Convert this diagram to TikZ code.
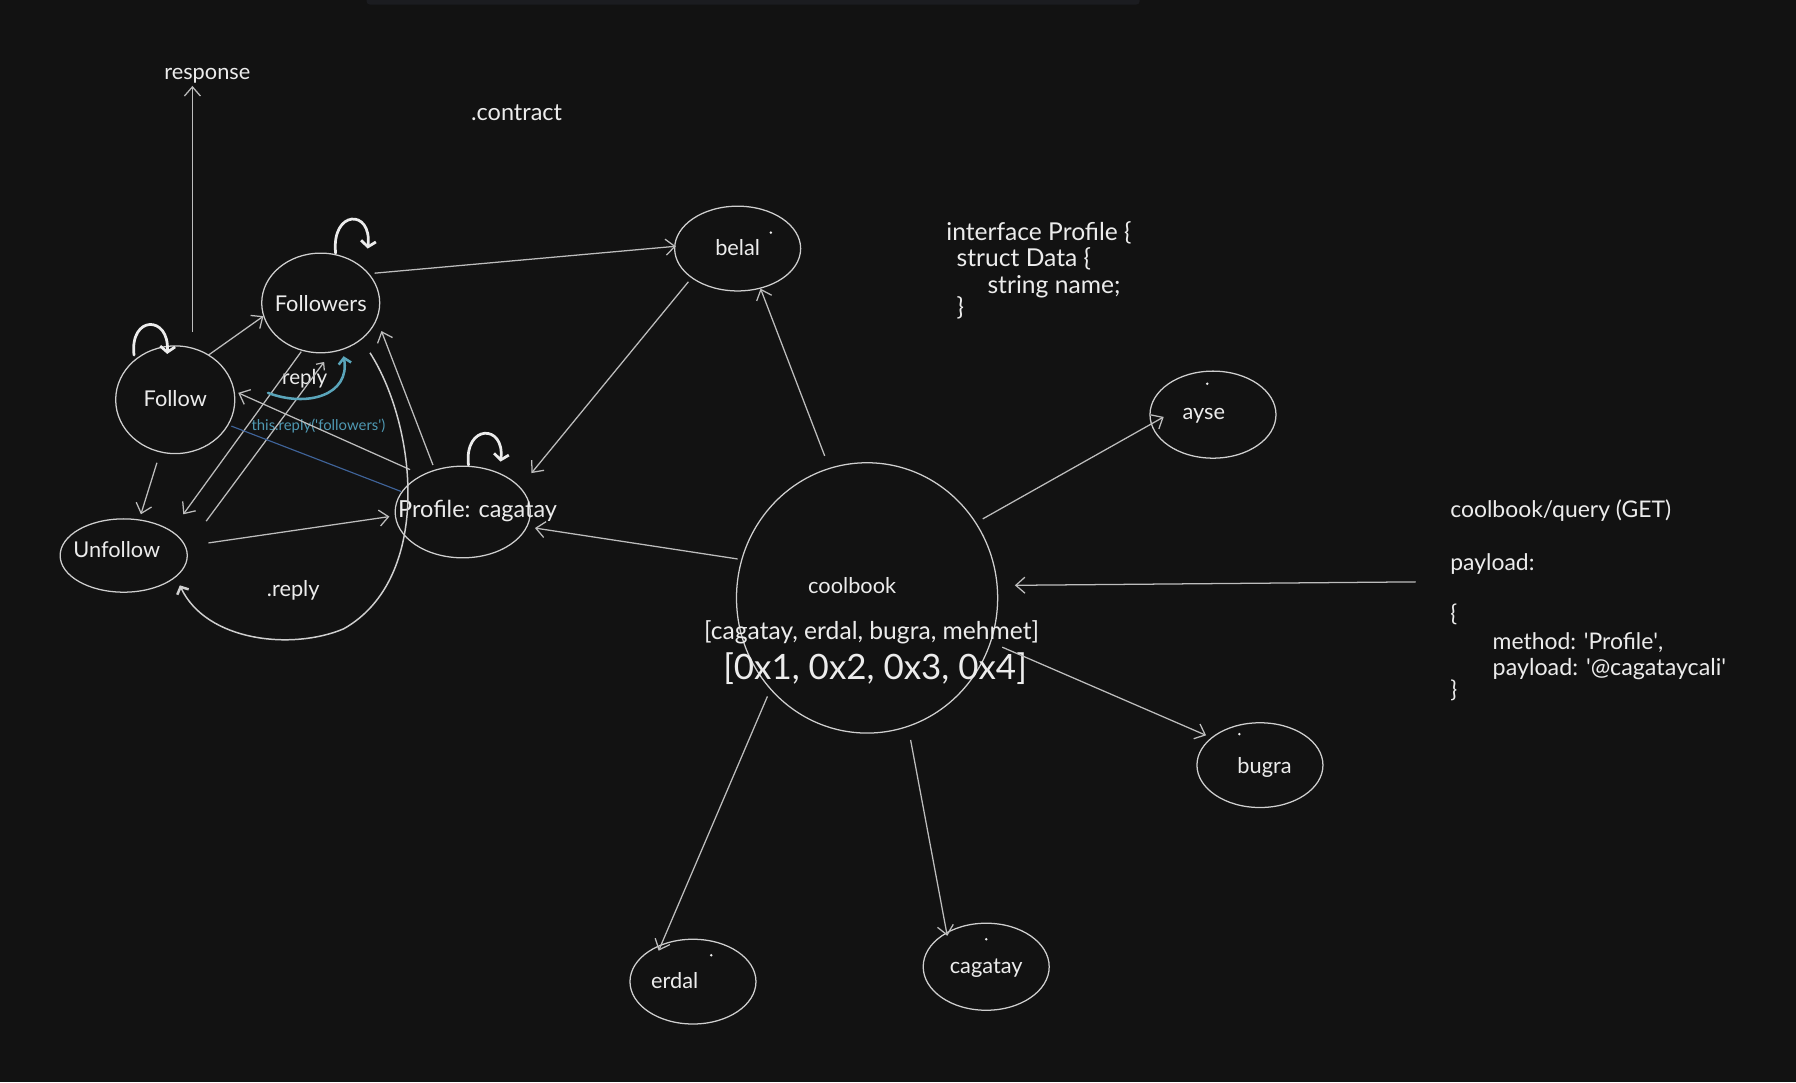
\documentclass[tikz,border=0pt]{standalone}
\usepackage{fontspec}
\setmainfont{Lato}
\usetikzlibrary{arrows.meta,shapes.geometric,calc}
\definecolor{bgc}{HTML}{121212}
\definecolor{barc}{HTML}{1B1C20}
\definecolor{linec}{HTML}{BDBDBD}
\definecolor{ellc}{HTML}{CFCFCF}
\definecolor{txtc}{HTML}{ECECEC}
\definecolor{tealc}{HTML}{5AA5BA}
\definecolor{tealt}{HTML}{4F98B2}
\definecolor{bluel}{HTML}{3F6399}
\begin{document}
\begin{tikzpicture}[x=1pt,y=-1pt,
  ell/.style={draw=ellc, ellipse, inner sep=0pt, line width=1.1pt},
  txt/.style={text=txtc, font=\fontsize{19}{23}\selectfont, inner sep=0pt},
  code/.style={text=txtc, inner sep=0pt, anchor=west, font=\fontsize{20}{24}\selectfont},
  codeb/.style={text=txtc, inner sep=0pt, anchor=west, font=\fontsize{21.5}{26}\selectfont},
  conn/.style={draw=linec, line width=1.1pt, -{Straight Barb[length=8pt,width=14pt,line width=1.1pt]}},
  loopa/.style={draw=txtc, line width=2.4pt, line cap=round, -{Straight Barb[length=5pt,width=13pt,line width=2.4pt]}},
  dotm/.style={circle, fill=txtc, inner sep=0pt, minimum size=2.4pt}
]
\useasboundingbox (0,0) rectangle (1568,945);
\fill[bgc] (0,0) rectangle (1568,945);
\fill[barc, rounded corners=3pt] (320,-6) rectangle (995,4);

% ---- ellipses ----
\node[ell, minimum width=103pt, minimum height=87pt] (followers) at (280,264.5) {};
\node[ell, minimum width=104pt, minimum height=94pt] (follow) at (153,349) {};
\node[ell, minimum width=111pt, minimum height=64pt] (unfollow) at (108,485) {};
\node[ell, minimum width=118pt, minimum height=80pt] (profile) at (404,447) {};
\node[ell, minimum width=110pt, minimum height=74pt] (belal) at (644,217) {};
\node[ell, minimum width=228pt, minimum height=236pt] (coolbook) at (757,522) {};
\node[ell, minimum width=110pt, minimum height=76pt] (ayse) at (1059,362) {};
\node[ell, minimum width=110pt, minimum height=74pt] (bugra) at (1100,668) {};
\node[ell, minimum width=110pt, minimum height=76pt] (cagatay) at (861,844) {};
\node[ell, minimum width=110pt, minimum height=74pt] (erdal) at (605,857) {};

% ---- texts ----
\node[txt] (followerst) at (280,265) {Followers};
\node[txt] (followt) at (153,348) {Follow};
\node[txt] (unfollowt) at (102,480) {Unfollow};
\node[txt, font=\fontsize{20.5}{24}\selectfont] (profilet) at (417,446) {Profile: cagatay};
\node[txt] (belalt) at (644,216) {belal};
\node[txt] (ayset) at (1051,363) {ayse};
\node[txt] (bugrat) at (1104,670) {bugra};
\node[txt] (cagatayt) at (861,845) {cagatay};
\node[txt] (erdalt) at (589,856) {erdal};
\node[dotm] (d1) at (673,203) {};
\node[dotm] (d2) at (1054,335) {};
\node[dotm] (d3) at (1082,641) {};
\node[dotm] (d4) at (861,820) {};
\node[dotm] (d5) at (621,834) {};

\node[txt] (cbname) at (744,511) {coolbook};
\node[txt, font=\fontsize{21.5}{26}\selectfont] (cblist) at (761,552) {[cagatay, erdal, bugra, mehmet]};
\node[txt, font=\fontsize{30.5}{36}\selectfont] (cbhex) at (764,584) {[0x1, 0x2, 0x3, 0x4]};

\node[txt] (response) at (181,66) {response};
\node[txt, font=\fontsize{20.5}{24}\selectfont] (contract) at (451,98) {.contract};

\node[codeb] (if1) at (826,203) {interface Profile \{};
\node[codeb] (if2) at (835,226) {struct Data \{};
\node[codeb] (if3) at (862,250) {string name;};
\node[codeb] (if4) at (835,269) {\}};

\node[code] (q1) at (1266,446) {coolbook/query (GET)};
\node[code] (q2) at (1266,492) {payload:};
\node[code] (q3) at (1266,536) {\{};
\node[code] (q4) at (1303,561) {method: \textquotesingle Profile\textquotesingle,};
\node[code, font=\fontsize{20.3}{24}\selectfont] (q5) at (1303,584) {payload: \textquotesingle @cagataycali\textquotesingle};
\node[code] (q6) at (1266,603) {\}};
\coordinate (qs) at ([shift={(-30,62)}]q1.west);

\node[txt, font=\fontsize{18}{22}\selectfont] (replyt) at (266,331) {reply};
\node[txt] (dreplyt) at (256,515) {.reply};
\node[txt, text=tealt, font=\fontsize{13}{16}\selectfont] (thisreply) at (278,372) {this.reply(\textquotesingle followers\textquotesingle)};

% ---- connectors ----
\draw[conn] ([shift={(15,-59)}]follow.center) -- ([shift={(-13,9)}]response.center);
\draw[conn] ([shift={(29,-39)}]follow.center) -- ([shift={(-50,11.5)}]followers.center);
\draw[conn] ([shift={(47,-26)}]followers.center) -- ([shift={(-54,-2)}]belal.center);
\draw[conn] ([shift={(-43,29)}]belal.center) -- ([shift={(60,-34)}]profile.center);
\draw[conn] ([shift={(-37,-124)}]coolbook.center) -- ([shift={(20,35)}]belal.center);
\draw[conn] ([shift={(-113,-34)}]coolbook.center) -- ([shift={(63,14)}]profile.center);
\draw[conn] ([shift={(101,-69)}]coolbook.center) -- ([shift={(-43,2)}]ayse.center);
\draw[conn] (qs) -- ([shift={(129,-11)}]coolbook.center);
\draw[conn] ([shift={(118,43)}]coolbook.center) -- ([shift={(-47,-26)}]bugra.center);
\draw[conn] ([shift={(38,124)}]coolbook.center) -- ([shift={(-34,-27)}]cagatay.center);
\draw[conn] ([shift={(-87,86)}]coolbook.center) -- ([shift={(-30,-27)}]erdal.center);
\draw[conn] ([shift={(-16,55)}]follow.center) -- ([shift={(15,-36)}]unfollow.center);
\draw[conn] ([shift={(74,-11)}]unfollow.center) -- ([shift={(-64,4)}]profile.center);
\draw[conn] ([shift={(-46,-37)}]profile.center) -- ([shift={(55,-6)}]follow.center);
\draw[conn] ([shift={(-26,-41)}]profile.center) -- ([shift={(53,24.5)}]followers.center);
\draw[conn] ([shift={(-17,42.5)}]followers.center) -- ([shift={(52,-36)}]unfollow.center);
\draw[conn, -{Straight Barb[length=5pt,width=9pt,line width=1.1pt]}] ([shift={(72,-30)}]unfollow.center) -- ([shift={(3,51.5)}]followers.center);

% big curve .reply
\draw[draw=ellc, line width=1.3pt, -{Straight Barb[length=5pt,width=11pt,line width=2.2pt]}]
  ([shift={(43,43.5)}]followers.center) .. controls (364,372) and (378,505) .. (300,549)
  .. controls (255,568) and (180,560) .. ([shift={(49,26)}]unfollow.center);

% blue line
\draw[bluel, line width=1pt] ([shift={(49,23)}]follow.center) -- ([shift={(-54,-18)}]profile.center);

% teal reply arrow
\draw[tealc, line width=2.2pt, line cap=round, -{Straight Barb[length=5pt,width=11pt,line width=2.2pt]}]
  ([shift={(-32,12)}]replyt.center) .. controls (268,356) and (306,345) .. ([shift={(20,46.5)}]followers.center);

% self loops
\draw[loopa] ([shift={(13,-43.5)}]followers.center) .. controls (289,183) and (325,182) .. ([shift={(41,-47.5)}]followers.center);
\draw[loopa] ([shift={(-36,-39)}]follow.center) .. controls (113,275) and (148,275) .. ([shift={(-7,-40)}]follow.center);
\draw[loopa] ([shift={(5,-41)}]profile.center) .. controls (405,370) and (441,370) .. ([shift={(33,-44)}]profile.center);
\end{tikzpicture}
\end{document}
